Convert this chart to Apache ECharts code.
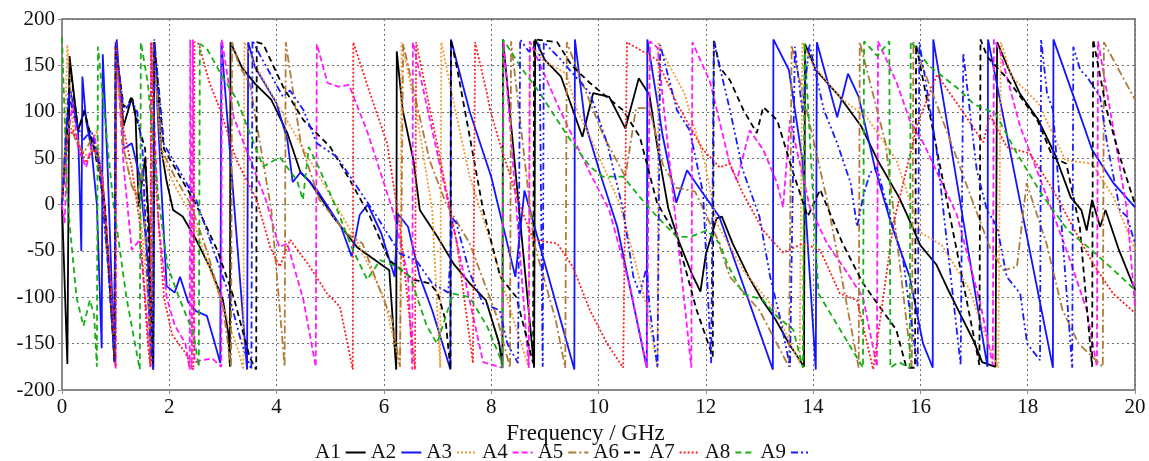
<!DOCTYPE html>
<html>
<head>
<meta charset="utf-8">
<script src="https://cdn.jsdelivr.net/npm/echarts@6/dist/echarts.min.js"></script>
<style>html,body{margin:0;padding:0;background:#fff}#c{width:1149px;height:461px}</style>
</head>
<body>
<div id="c"></div>
<script>
// Frequency (GHz) / phase (deg) pairs
const A1 = [[0,0],[0.1,-172],[0.14,160],[0.3,80],[0.42,102],[0.55,65],[0.65,60],[0.75,30],[0.85,-50],[0.98,-170],[1.0,170],[1.15,85],[1.3,115],[1.37,95],[1.43,-2],[1.55,50],[1.62,-20],[1.7,-178],[1.72,175],[1.85,60],[1.95,25],[2.07,-6],[2.25,-13],[2.5,-38],[2.75,-67],[3.0,-103],[3.1,-139],[3.13,-175],[3.14,175],[3.35,148],[3.6,130],[3.9,113],[4.2,77],[4.45,34],[4.6,26],[4.85,5],[5.05,-13],[5.5,-46],[6.1,-71],[6.23,-178],[6.24,165],[6.35,102],[6.55,48],[6.67,-6],[7.0,-35],[7.3,-64],[7.6,-85],[7.9,-103],[8.15,-150],[8.21,-176],[8.22,178],[8.8,-176],[8.82,178],[9.0,156],[9.3,138],[9.7,73],[9.9,120],[10.2,116],[10.5,82],[10.75,136],[10.95,118],[11.1,61],[11.3,-4],[11.5,-40],[11.75,-76],[11.9,-94],[12.0,-54],[12.2,-15],[12.3,-13],[12.5,-42],[12.8,-78],[13.05,-103],[13.3,-124],[13.55,-150],[13.83,-175],[13.85,173],[14.05,145],[14.5,116],[14.9,84],[15.2,48],[15.6,8],[15.75,-11],[16.0,-44],[16.3,-65],[16.5,-90],[16.75,-119],[17.0,-148],[17.15,-170],[17.4,-175],[17.43,175],[17.6,152],[17.85,120],[18.2,91],[18.5,55],[18.8,8],[19.0,-6],[19.1,-28],[19.2,5],[19.35,-24],[19.45,-6],[19.7,-49],[20,-92]];
const A2 = [[0,0],[0.08,80],[0.15,125],[0.3,80],[0.36,-50],[0.38,138],[0.45,90],[0.55,60],[0.65,0],[0.74,-155],[0.76,162],[0.85,40],[0.97,-160],[1.02,178],[1.15,60],[1.3,66],[1.45,30],[1.6,-60],[1.7,-170],[1.72,175],[1.85,20],[1.95,-88],[2.1,-95],[2.2,-78],[2.35,-105],[2.5,-115],[2.7,-120],[2.85,-150],[2.95,-171],[2.97,175],[3.45,-178],[3.47,175],[3.6,148],[4.0,109],[4.2,70],[4.3,24],[4.45,35],[4.75,16],[5.2,-24],[5.4,-56],[5.55,-11],[5.7,0],[5.95,-31],[6.2,-78],[6.26,-10],[6.45,-24],[6.67,-78],[6.9,-114],[7.24,-178],[7.25,178],[7.6,100],[8.0,30],[8.45,-78],[8.62,15],[9.55,-178],[9.56,178],[9.75,88],[10.05,30],[10.35,-24],[10.9,-176],[10.91,178],[11.2,73],[11.45,2],[11.65,37],[11.9,16],[12.25,-13],[13.25,-178],[13.26,178],[13.55,145],[13.8,48],[14.05,-178],[14.07,175],[14.45,94],[14.65,141],[14.85,116],[15.15,40],[15.45,-20],[15.8,-78],[16.05,-150],[16.23,-176],[16.24,178],[17.25,-175],[17.26,178],[18.47,-176],[18.48,178],[18.9,109],[19.2,59],[19.6,23],[20,-3]];
const A3 = [[0,0],[0.05,60],[0.1,172],[0.2,85],[0.35,60],[0.5,50],[0.65,80],[0.8,0],[0.98,-165],[1.0,170],[1.15,60],[1.3,20],[1.45,0],[1.6,-100],[1.68,-170],[1.7,175],[1.85,55],[2.1,20],[2.4,-10],[2.7,-60],[3.0,-110],[3.3,-160],[3.38,-178],[3.4,175],[3.6,150],[4.0,110],[4.5,60],[5.0,10],[5.5,-40],[6.0,-100],[6.3,-175],[6.33,175],[6.6,102],[6.9,-6],[7.05,-176],[7.07,175],[7.3,110],[7.6,30],[8.0,-42],[8.3,-103],[8.7,-176],[8.72,175],[8.95,156],[9.4,141],[9.6,102],[9.9,66],[10.4,0],[10.9,-110],[11.1,-176],[11.12,175],[11.2,163],[11.6,120],[11.97,48],[12.2,-20],[12.7,-71],[13.3,-114],[13.75,-171],[13.8,175],[14.0,150],[14.55,113],[15.0,94],[15.55,48],[15.8,5],[16.0,-30],[16.4,-44],[16.9,-90],[17.3,-155],[17.45,-176],[17.5,175],[17.7,138],[18.2,109],[18.7,48],[19.2,44],[19.6,8],[20,-49]];
const A4 = [[0,0],[0.05,-20],[0.1,70],[0.2,110],[0.3,60],[0.45,40],[0.6,75],[0.75,30],[0.9,-80],[1.0,-178],[1.01,170],[1.15,40],[1.3,-49],[1.45,-38],[1.55,-100],[1.65,-175],[1.66,175],[1.8,-20],[1.95,-100],[2.1,-130],[2.3,-150],[2.38,-178],[2.39,178],[2.42,-178],[2.44,178],[2.47,-170],[2.6,-168],[2.8,-166],[2.97,-175],[2.98,178],[3.2,94],[3.8,5],[4.05,-46],[4.2,-42],[4.5,-103],[4.73,-175],[4.75,173],[4.95,131],[5.15,127],[5.35,129],[5.7,77],[6.2,-13],[6.45,-78],[6.53,-178],[6.54,175],[7.85,-170],[8.21,-176],[8.23,176],[8.7,-176],[8.72,176],[9.28,102],[9.84,34],[10.2,-6],[10.59,-89],[10.9,-176],[10.96,176],[11.1,169],[11.73,-176],[11.75,175],[12.08,132],[12.45,43],[12.58,26],[12.82,80],[13.07,59],[13.33,23],[13.44,-3],[13.57,91],[13.94,-3],[14.26,-42],[14.56,-67],[14.93,-100],[15.19,-175],[15.21,176],[15.56,131],[15.8,91],[16.05,67],[16.68,-11],[17.11,-105],[17.35,-173],[17.37,178],[17.48,166],[17.86,84],[18.36,8],[18.79,-60],[19.1,-114],[19.29,-175],[19.31,176],[19.59,84],[19.85,-6],[20,-110]];
const A5 = [[0,0],[0.05,40],[0.12,90],[0.25,70],[0.4,55],[0.55,70],[0.7,40],[0.85,-60],[0.98,-170],[1.0,172],[1.15,60],[1.3,20],[1.4,10],[1.5,40],[1.65,-170],[1.7,175],[1.85,60],[2.1,30],[2.4,0],[2.7,-50],[3.0,-110],[3.15,-175],[3.17,175],[3.3,150],[3.5,130],[3.9,-5],[4.15,-175],[4.17,175],[4.45,66],[4.8,5],[5.3,-31],[5.6,-42],[5.95,-96],[6.15,-124],[6.3,-175],[6.36,173],[6.5,137],[6.85,48],[7.15,2],[7.6,-42],[8.1,-120],[8.35,-176],[8.37,176],[8.6,60],[8.8,-42],[9.2,-124],[9.38,-176],[9.41,175],[9.65,138],[10.1,73],[10.5,30],[10.7,104],[10.95,104],[11.2,43],[11.45,18],[11.8,14],[12.2,-35],[12.45,-78],[13.0,-114],[13.55,-175],[13.6,172],[14.26,5],[14.85,-176],[14.87,175],[15.35,66],[15.84,-175],[15.87,175],[16.55,70],[16.95,7],[17.3,-47],[17.55,-71],[17.8,-67],[17.98,23],[18.35,-42],[18.65,-114],[18.95,-150],[19.4,-175],[19.42,175],[19.7,145],[20,113]];
const A6 = [[0,0],[0.08,60],[0.15,150],[0.3,80],[0.42,100],[0.6,60],[0.8,0],[0.98,-170],[1.0,170],[1.15,105],[1.25,110],[1.3,117],[1.4,90],[1.55,60],[1.65,-100],[1.7,-175],[1.72,175],[1.9,60],[2.2,30],[2.5,0],[2.9,-50],[3.2,-100],[3.5,-165],[3.62,-178],[3.63,175],[3.75,173],[4.12,127],[4.5,91],[5.0,62],[5.37,26],[5.74,-13],[6.1,-60],[6.55,-81],[6.85,-85],[7.0,-95],[7.15,-125],[7.24,-178],[7.25,178],[7.37,145],[7.6,73],[7.85,-6],[8.17,-78],[8.47,-100],[8.78,-171],[8.8,178],[9.23,175],[9.5,150],[9.84,131],[10.45,102],[10.77,73],[11.09,2],[11.46,-35],[11.83,-114],[12.13,-164],[12.15,178],[12.26,148],[12.45,134],[12.7,102],[12.95,77],[13.07,105],[13.33,91],[13.63,34],[13.9,-13],[14.13,16],[14.55,-42],[14.93,-85],[15.2,-107],[15.55,-135],[15.74,-176],[15.9,-176],[15.92,172],[17.1,-173],[17.12,178],[17.25,159],[17.6,137],[18.18,91],[18.47,51],[18.72,44],[18.97,-24],[19.2,-175],[19.22,178],[19.47,102],[19.72,51],[20,0]];
const A7 = [[0,0],[0.05,40],[0.1,70],[0.2,80],[0.35,60],[0.45,45],[0.6,60],[0.75,30],[0.9,-80],[1.0,-175],[1.01,175],[1.15,80],[1.3,40],[1.45,-20],[1.6,-150],[1.65,-175],[1.66,175],[1.75,20],[1.9,-100],[2.05,-140],[2.3,-160],[2.45,-178],[2.47,175],[2.55,173],[2.75,131],[2.95,102],[3.25,48],[3.63,5],[3.88,-46],[4.06,-67],[4.25,-38],[4.62,-67],[4.94,-96],[5.18,-110],[5.42,-178],[5.43,175],[5.74,120],[6.06,66],[6.3,-24],[6.58,-178],[6.6,175],[6.99,66],[7.36,-42],[7.66,-171],[7.7,175],[7.92,120],[7.98,102],[8.16,66],[8.48,8],[8.78,-38],[9.23,-42],[9.52,-67],[9.84,-114],[10.16,-150],[10.46,-176],[10.53,175],[11.09,156],[11.46,109],[11.95,59],[12.26,40],[12.45,44],[12.69,12],[13.07,-28],[13.44,-52],[13.81,-42],[14.13,-49],[14.5,-96],[14.82,-103],[15.12,-178],[15.5,-20],[15.94,86],[16.31,140],[16.79,100],[17.17,67],[17.3,96],[17.61,62],[18.04,55],[18.47,16],[18.84,-24],[19.22,-64],[19.59,-96],[20,-117]];
const A8 = [[0,180],[0.1,5],[0.27,-100],[0.4,-131],[0.52,-103],[0.6,-120],[0.65,-175],[0.67,170],[0.95,5],[1.2,-100],[1.45,-178],[1.47,175],[1.6,131],[1.8,5],[1.97,-67],[2.2,-103],[2.45,-139],[2.55,-175],[2.57,173],[2.7,168],[2.99,138],[3.26,113],[3.5,77],[3.75,41],[4.06,51],[4.38,26],[4.49,5],[4.6,62],[4.81,37],[5.13,-6],[5.42,-49],[5.69,-81],[5.93,-60],[6.24,-67],[6.49,-78],[6.8,-131],[6.99,-150],[7.29,-96],[7.6,-100],[7.92,-131],[8.16,-164],[8.21,-176],[8.22,178],[8.59,145],[8.91,120],[9.23,91],[9.52,66],[9.84,41],[10.08,30],[10.46,30],[10.77,8],[11.09,-13],[11.46,-35],[11.7,-35],[12.02,-28],[12.26,-42],[12.4,-64],[12.69,-96],[13.07,-103],[13.33,-121],[13.63,-135],[13.81,-176],[13.84,175],[14.1,-96],[14.93,-176],[14.95,176],[15.2,160],[15.42,176],[15.44,-176],[15.6,-170],[15.8,-176],[15.82,176],[16.15,150],[16.7,125],[17.0,108],[17.4,98],[17.8,55],[18.25,12],[18.75,-28],[19.25,-52],[20,-92]];
const A9 = [[0,0],[0.05,50],[0.12,120],[0.25,90],[0.4,70],[0.55,80],[0.7,40],[0.85,-60],[0.98,-170],[1.0,175],[1.15,100],[1.3,112],[1.4,100],[1.5,60],[1.65,-150],[1.7,-178],[1.72,178],[1.9,65],[2.2,35],[2.5,5],[2.8,-45],[3.1,-95],[3.35,-150],[3.53,-178],[3.55,177],[3.7,160],[4.12,116],[4.25,123],[4.5,102],[4.75,66],[5.13,51],[5.5,19],[5.87,-13],[6.3,-53],[6.6,-60],[6.9,-85],[7.2,-95],[7.28,-15],[7.35,-20],[7.6,-74],[7.85,-107],[8.16,-114],[8.3,-150],[8.5,-171],[8.54,178],[8.7,165],[8.9,175],[8.96,-175],[8.98,175],[9.3,156],[9.84,120],[10.16,66],[10.46,-6],[10.65,-78],[10.77,-96],[10.9,-67],[10.95,-110],[11.1,-176],[11.15,172],[11.46,102],[11.7,80],[11.95,12],[12.1,-171],[12.15,175],[12.45,102],[12.69,37],[13.0,-13],[13.2,-78],[13.38,-121],[13.57,-175],[13.66,170],[13.8,100],[13.93,173],[14.2,102],[14.45,66],[14.7,23],[14.82,-24],[14.93,8],[15.06,34],[15.19,40],[15.43,-13],[15.68,-60],[15.8,-114],[15.95,-175],[15.98,175],[16.3,60],[16.75,-173],[16.8,163],[16.92,102],[17.05,37],[17.24,-6],[17.43,-24],[17.61,-78],[17.86,-96],[17.99,-150],[18.23,-168],[18.25,178],[18.36,120],[18.47,102],[18.83,-176],[18.85,170],[18.98,145],[19.1,138],[19.35,116],[19.48,66],[19.72,-6],[19.85,-13],[20,-42]];

const names = ['A1','A2','A3','A4','A5','A6','A7','A8','A9'];
const seriesData = [A1,A2,A3,A4,A5,A6,A7,A8,A9];
const colors = ['#000000','#1414ff','#f39a35','#ff1aff','#b07a3a','#000000','#ff2020','#16b016','#1a1aff'];
const dashes = ['solid','solid',[2,2],[6,3],[8,3,2,3],[6,4],[2,2],[6,4],[7,3,2,3,2,3]];

const font = 'Liberation Serif, Times New Roman, serif';
const chart = echarts.init(document.getElementById('c'), null, {renderer:'canvas'});
chart.setOption({
  animation:false,
  backgroundColor:'#fff',
  grid:{left:62,right:14,top:19,bottom:71,show:true,borderColor:'#8c8c8c',borderWidth:2,backgroundColor:'transparent'},
  legend:{
    data:names, top:437, left:310, align:'right', itemGap:4, itemWidth:20, itemHeight:10,
    itemStyle:{opacity:0},
    textStyle:{fontFamily:font,fontSize:21,color:'#111'}
  },
  xAxis:{
    type:'value', min:0, max:20, interval:2,
    name:'Frequency / GHz', nameLocation:'middle', nameGap:30,
    nameTextStyle:{fontFamily:font,fontSize:23,color:'#111',padding:[0,26,0,0]},
    axisLine:{show:true,onZero:false,lineStyle:{color:'#8c8c8c',width:2}},
    axisTick:{show:true,length:4,lineStyle:{color:'#8c8c8c'}},
    axisLabel:{fontFamily:font,fontSize:21,color:'#111',margin:7},
    splitLine:{show:true,lineStyle:{color:'#707070',type:[2,3],width:1}}
  },
  yAxis:{
    type:'value', min:-200, max:200, interval:50,
    axisLine:{show:true,onZero:false,lineStyle:{color:'#8c8c8c',width:2}},
    axisTick:{show:true,length:4,lineStyle:{color:'#8c8c8c'}},
    axisLabel:{fontFamily:font,fontSize:21,color:'#111',margin:7},
    splitLine:{show:true,lineStyle:{color:'#707070',type:[2,3],width:1}}
  },
  series: names.map((n,i)=>({
    name:n, type:'line', data:seriesData[i], symbol:'none', showSymbol:false,
    lineStyle:{color:colors[i], width:1.8, type:dashes[i]},
    itemStyle:{color:colors[i]},
    z: 2
  }))
});
</script>
</body>
</html>
